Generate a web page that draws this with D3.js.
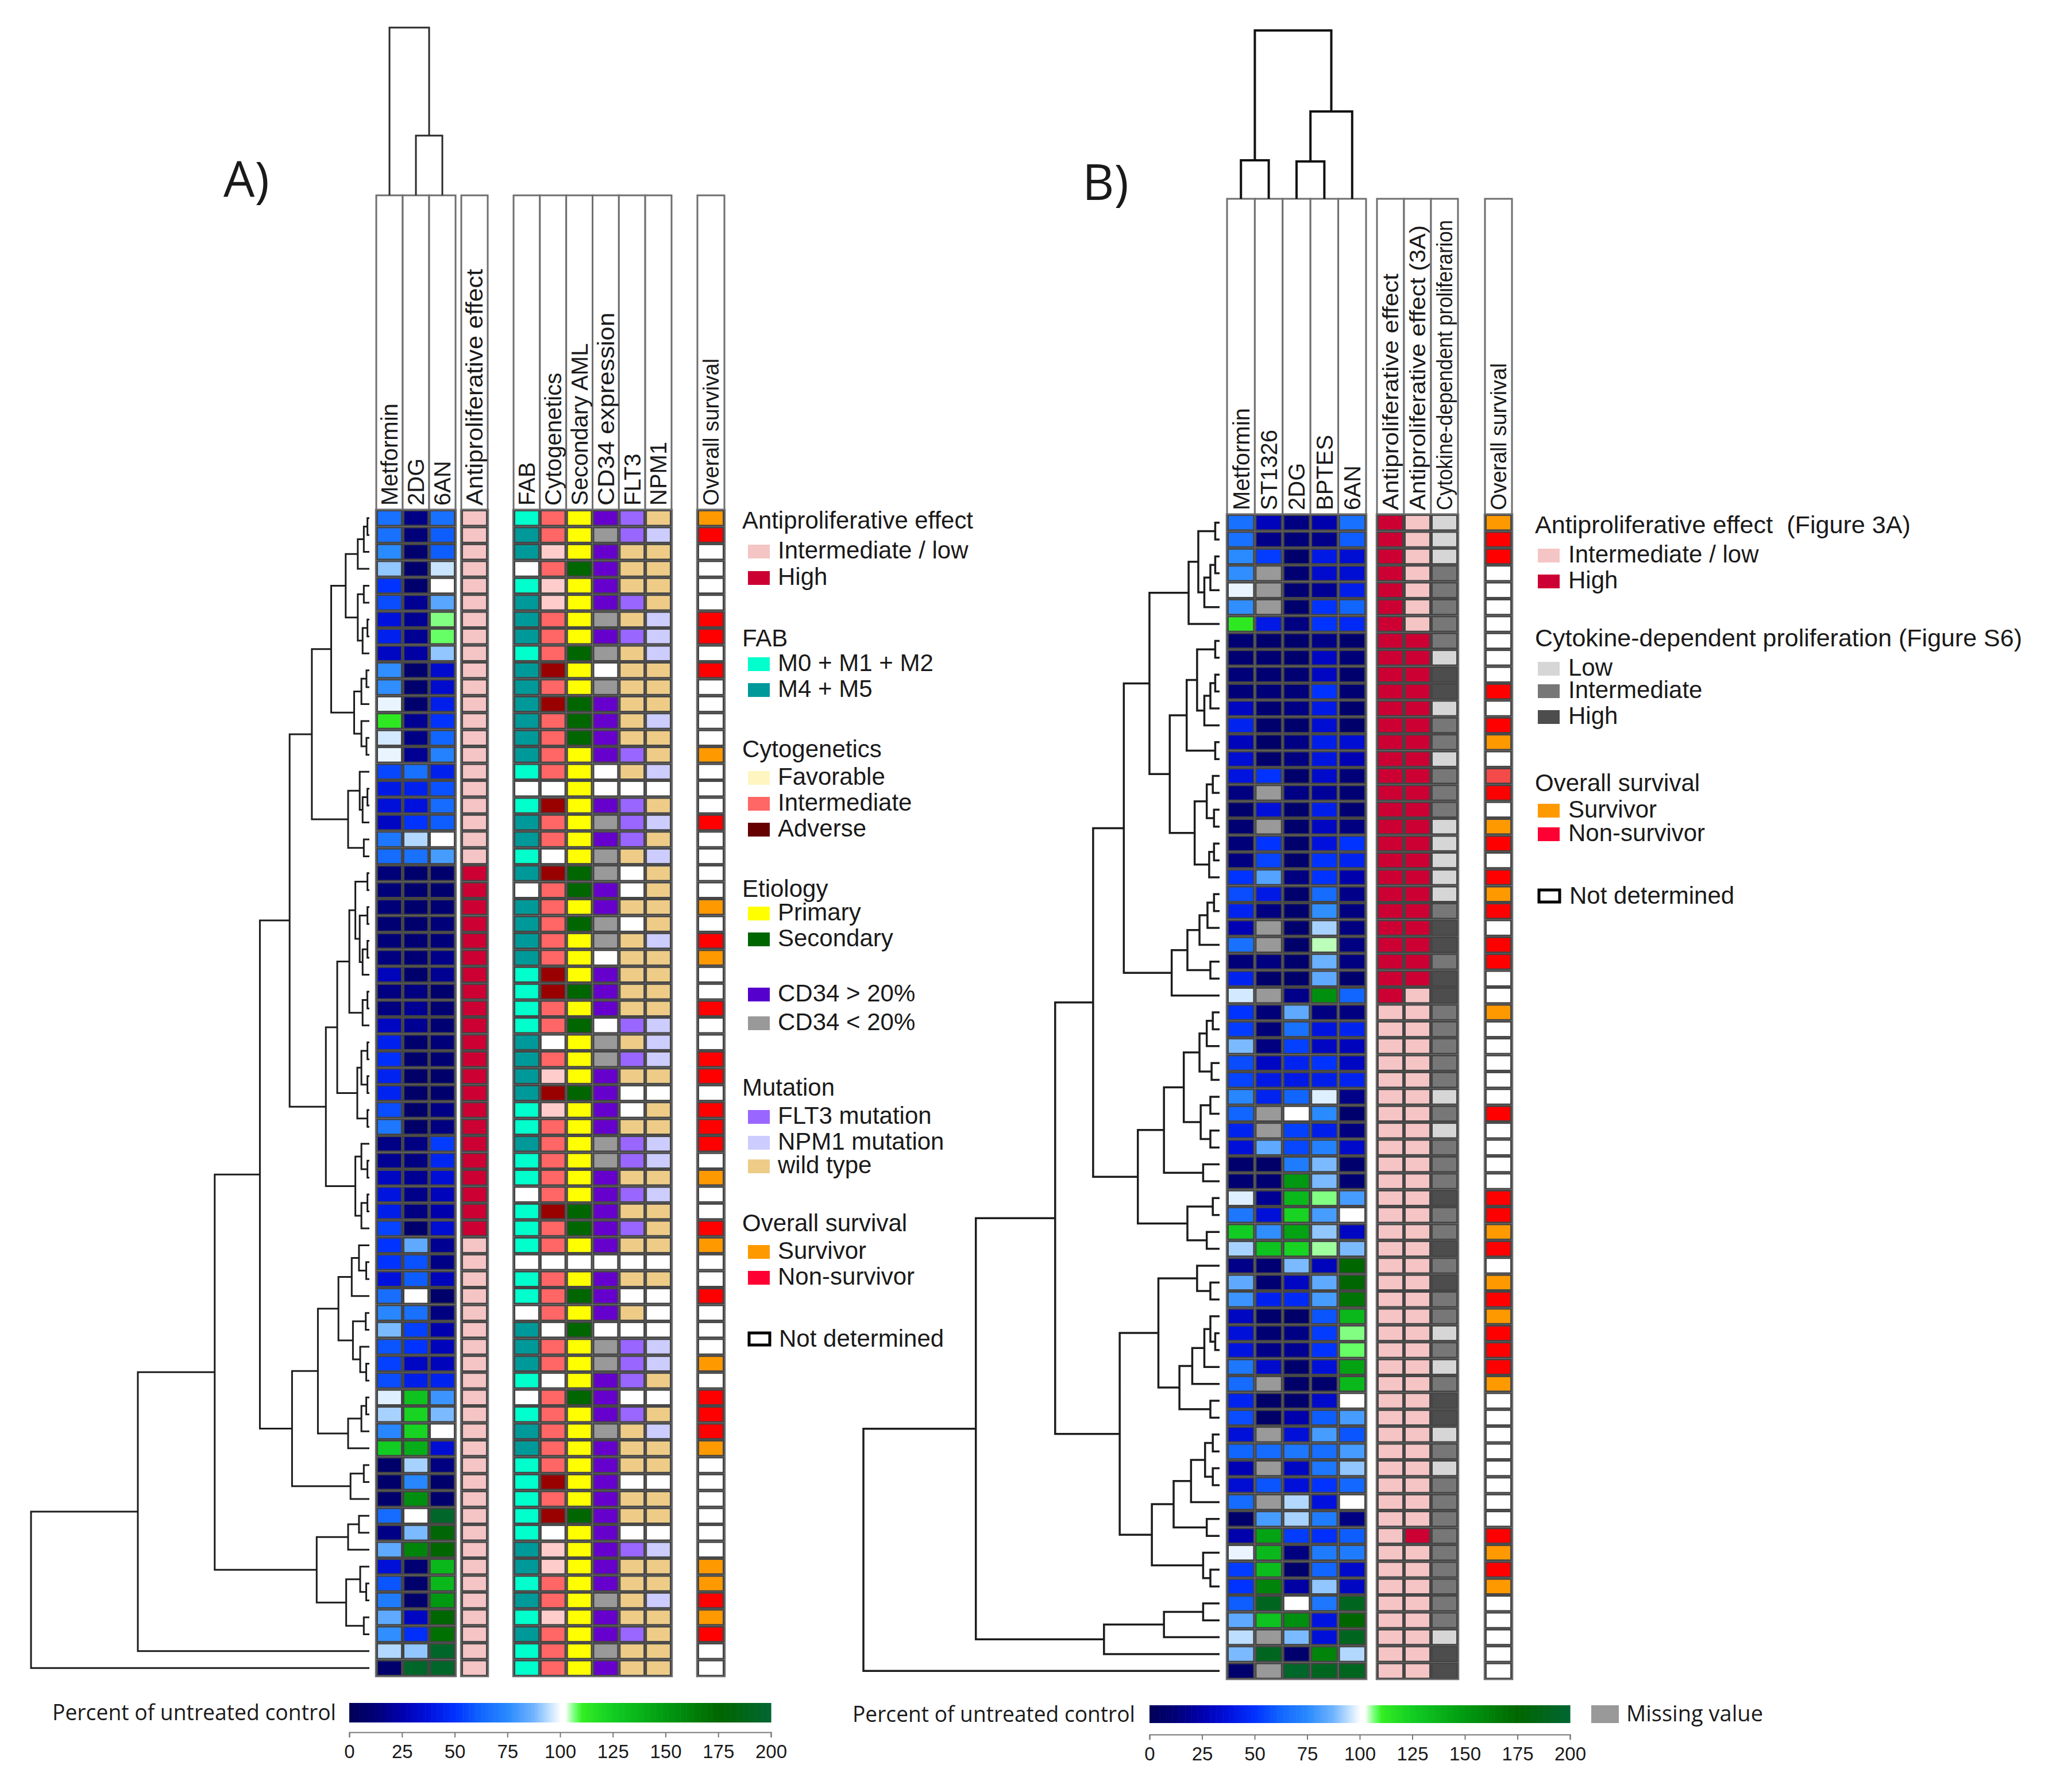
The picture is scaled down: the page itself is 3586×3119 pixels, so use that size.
<!DOCTYPE html>
<html><head><meta charset="utf-8">
<script src="https://cdnjs.cloudflare.com/ajax/libs/d3/7.8.5/d3.min.js"></script>
<style>html,body{margin:0;padding:0;background:#fff}svg{display:block}text{font-family:"Liberation Sans",Arial,sans-serif;fill:#1a1a1a}</style>
</head><body><svg id="c" width="3586" height="3119"></svg>
<script>
// ---------- Panel A data ----------
const aDrugs=["Metformin","2DG","6AN"];
const aHeat=[[66,15,66],[66,12,60],[75,8,60],[90,8,95],[50,8,100],[56,18,83],[37,18,106],[43,18,107],[30,22,90],[76,8,33],
[76,8,33],[98,8,42],[112,18,50],[96,15,62],[98,18,72],[55,66,43],[40,43,57],[36,37,64],[30,50,60],[68,93,100],
[64,66,80],[12,8,8],[12,8,8],[12,8,10],[10,8,12],[12,10,12],[14,10,16],[28,8,18],[14,14,8],[14,18,10],
[30,18,10],[43,8,12],[48,8,10],[44,6,7],[44,6,8],[56,6,15],[68,6,14],[15,14,52],[18,14,45],[30,18,35],
[38,16,28],[42,14,24],[54,8,34],[50,84,18],[50,57,15],[37,60,28],[65,100,7],[74,66,14],[88,53,24],[58,50,28],
[53,30,28],[56,42,44],[97,130,78],[92,122,88],[74,122,100],[125,140,34],[7,92,14],[7,74,7],[8,155,8],[64,100,195],
[15,88,178],[84,160,175],[36,10,135],[58,8,135],[70,8,150],[84,30,176],[76,48,170],[93,90,195],[8,195,195]];
const aEffectLabel=["Antiproliferative effect"];
const aEffect=[..."LLLLLLLLLLLLLLLLLLLLLHHHHHHHHHHHHHHHHHHHHHHLLLLLLLLLLLLLLLLLLLLLLLLLL"];
const aClinicalLabels=["FAB","Cytogenetics","Secondary AML","CD34 expression","FLT3","NPM1"];
const aClinical=["cIypmw","dIygmM","dFypww","nIspww","cFypww","dFypmw","dIygwM","dIypmM","cIsgwM","dAynww","dIygww","dAspww","dIspwM","dIspww","dIypmw","cIynwM","nnynnn","cAypmw","dIygmM","dIypmw","cnygwM","dAsgnw","nIspnw","dIypww","dIsgnw","dIygwM","dIynww","cAypww","cAspww","cIypww","cIsnmM","dnygwM","dIygmM","dFypww","dAspnn","cFypnw","cIypww","dIygmM","cIygmM","cIypww","nIypmM","cAspww","cIspmw","cIypww","nnnnnn","cIypww","cIspnn","nIypwn","dnsnnn","dIygmM","dIygmM","cnypmw","nIspnn","cIypmw","dIygwM","dIypww","cIypww","cAypnn","cIypww","cAspww","cnypnn","dFypmM","dFypww","cIypww","dIygwM","cFypww","dIypmw","cIygww","cIypww"];
const aOutcome=["o","r","n","n","n","n","r","r","n","r","n","n","n","n","o","n","n","n","r","n","n","n","n","o","n","r","o","n","n","r","n","n","r","r","n","r","r","r","n","o","n","n","r","o","n","n","r","n","n","n","o","n","r","r","r","o","n","n","n","n","n","n","o","o","r","o","r","n","n"];
const aColTree=[0.9125,["Metformin"],[0.325,["2DG"],["6AN"]]];
const aRowTree=[1400,[958,[640,[453,[330,[238,[158,[98,[48,[23,[8,0,0],0],0],[48,[23,0,0],[28,[8,0,0],0]]],[63,[33,[12,0,0],0],[33,0,[12,0,0]]]],[88,[40,0,[28,[8,0,0],0]],[23,0,0]]],
[180,[133,[83,[58,[8,0,0],[40,[8,0,0],[28,[8,0,0],0]]],[28,[8,0,0],0]],[50,[33,[8,0,0],[8,0,0]],[8,0,0]]],[58,[33,0,[8,0,0]],[33,[8,0,0],0]]]],
[320,[213,[128,[73,[43,0,[13,0,0]],0],[68,[15,0,0],[38,0,[13,0,0]]]],[88,[33,[13,0,0],0],0]],[78,[23,0,0],0]]],
[218,[88,[43,0,0],0],[96,[38,0,[13,0,0]],[23,0,0]]]],0],0];
// ---------- Panel B data ----------
const bDrugs=["Metformin","ST1326","2DG","BPTES","6AN"];
const M=null;
const bHeat=[[66,28,14,24,66],[66,16,12,16,60],[75,52,8,40,34],[76,M,10,33,34],[98,M,10,18,42],[76,M,8,50,62],[112,40,14,50,46],[10,8,8,15,8],[10,10,8,30,12],[12,10,10,30,8],
[12,12,12,50,10],[30,10,15,40,8],[44,8,8,34,7],[28,6,15,42,34],[34,8,14,38,26],[38,50,8,32,12],[14,M,15,20,10],[8,36,8,42,10],[10,M,8,30,14],[12,50,8,37,50],
[14,54,8,50,44],[50,82,14,50,24],[56,40,8,64,16],[44,14,8,76,14],[26,M,8,92,14],[66,M,7,104,14],[12,14,8,86,14],[44,7,7,84,8],[96,M,16,155,62],[50,12,84,14,14],
[52,12,66,38,44],[88,14,53,30,28],[56,30,44,50,30],[54,40,40,42,44],[74,44,62,97,16],[62,M,100,75,8],[44,M,53,42,14],[36,84,55,72,32],[8,6,70,88,8],[10,10,150,88,10],
[97,18,135,106,80],[68,36,122,80,100],[125,76,145,90,30],[92,130,122,105,88],[16,10,88,28,175],[84,10,30,84,176],[78,43,46,80,168],[30,8,6,58,135],[36,10,15,52,106],[38,16,18,50,107],
[68,33,8,36,145],[64,M,6,8,135],[44,6,8,32,100],[56,6,24,60,80],[36,M,36,80,58],[62,64,68,65,80],[26,M,30,68,90],[34,58,36,50,63],[64,M,93,37,100],[7,80,92,70,15],
[24,145,52,48,60],[98,135,14,70,70],[52,132,8,62,32],[50,160,22,90,30],[60,190,100,68,190],[84,130,155,38,175],[94,M,88,36,190],[88,190,8,160,93],[8,M,195,190,190]];
const bAnnotLabels=["Antiproliferative effect","Antiproliferative effect (3A)","Cytokine-dependent proliferarion"];
const bEffect=[..."HHHHHHHHHHHHHHHHHHHHHHHHHHHHHLLLLLLLLLLLLLLLLLLLLLLLLLLLLLLLLLLLLLLLL"];
const bEffect3A=[..."LLLLLLLHHHHHHHHHHHHHHHHHHHHHLLLLLLLLLLLLLLLLLLLLLLLLLLLLLLLLHLLLLLLLL"];
const bCytokine=["l","l","l","i","i","i","i","i","l","h","h","l","i","i","l","i","i","i","l","l","l","l","l","i","h","h","i","h","h","i","i","i","i","i","l","i","l","i","i","i","h","i","i","h","i","h","i","i","l","i","l","i","h","h","l","i","l","i","i","i","i","i","i","i","i","i","l","h","h"];
const bOutcome=["o","r","r","n","n","n","n","n","n","n","r","n","r","o","n","R","r","n","o","r","n","r","o","r","n","r","r","n","n","o","n","n","n","n","n","r","n","n","n","n","r","r","o","r","n","o","r","o","r","r","r","o","n","n","n","n","n","n","n","n","r","o","r","o","n","n","n","n","n"];
const bRowTree=[1473,[1008,[680,[523,[396,[290,[128,[88,[18,0,0],[63,[38,[18,0,0],0],0]],0],[206,[136,[93,[18,0,0],[63,[38,[18,0,0],0],0]],[18,0,0]],[103,[53,[28,0,0],[23,0,0]],[43,[23,0,0],0]]]],[198,[133,[83,[50,[23,0,0],0],0],[38,0,0]],0]],
[338,[230,[148,[83,[53,[28,0,0],0],[33,0,0]],[78,[38,0,0],[38,0,0]]],[68,0,0]],[133,[28,0,0],[53,0,0]]]],
[413,[253,[93,0,[38,0,0]],[166,[113,[63,[38,0,[18,0,0]],0],0],[38,0,0]]],[280,[190,[118,[60,[28,0,0],[28,0,0]],0],[53,0,0]],[68,0,[38,0,0]]]]],[478,[230,[68,0,0],0],0]],0];
const bColMerges=[{a:0,b:1,h:0.212},{a:2,b:3,h:0.206},{a:"p2",b:4,h:0.481},{a:"p1",b:"p3",h:0.927}];
const survivalLabel=["Overall survival"];
const tickLabels=[0,25,50,75,100,125,150,175,200];
const colorStops=[0,12,25,37,50,62,75,87,95,100,102,104,107,110,125,150,175,200];
const colorValues=["#000058","#000078","#0000b0","#0011dd","#0033ff","#1166ff","#2a8aff","#70b4ff","#c8e4ff","#ffffff","#ffffff","#bbffbb","#66ff66","#33ee22","#11cc22","#009911","#006600","#006633"];
const legendA=[
 {title:"Antiproliferative effect",items:[["Intermediate / low","#f5c4c4"],["High","#cc0033"]],ys:[920,972,1018]},
 {title:"FAB",items:[["M0 + M1 + M2","#00ffcc"],["M4 + M5","#009999"]],ys:[1125,1168,1213]},
 {title:"Cytogenetics",items:[["Favorable","#fff5c0"],["Intermediate","#ff6666"],["Adverse","#660000"]],ys:[1318,1366,1411,1456]},
 {title:"Etiology",items:[["Primary","#ffff00"],["Secondary","#006600"]],ys:[1561,1602,1647]},
 {title:"",items:[["CD34 > 20%","#5500cc"],["CD34 < 20%","#999999"]],ys:[0,1743,1793]},
 {title:"Mutation",items:[["FLT3 mutation","#9966ff"],["NPM1 mutation","#ccccff"],["wild type","#eecc88"]],ys:[1907,1956,2001,2042]},
 {title:"Overall survival",items:[["Survivor","#ff9900"],["Non-survivor","#ff0033"]],ys:[2143,2191,2236]},
 {title:"",items:[["Not determined",null]],ys:[0,2344]}];
const legendB=[
 {title:"Antiproliferative effect  (Figure 3A)",items:[["Intermediate / low","#f5c4c4"],["High","#cc0033"]],ys:[928,979,1024]},
 {title:"Cytokine-dependent proliferation (Figure S6)",items:[["Low","#d6d6d6"],["Intermediate","#777777"],["High","#4d4d4d"]],ys:[1125,1176,1215,1260]},
 {title:"Overall survival",items:[["Survivor","#ff9900"],["Non-survivor","#ff0033"]],ys:[1377,1423,1464]},
 {title:"",items:[["Not determined",null]],ys:[0,1573]}];

// ---------- style (drawn lengths of stretched reference labels, pixels) ----------
const labelFit={"Antiproliferative effect":412,"CD34 expression":336,"Antiproliferative effect (3A)":496,"Cytokine-dependent proliferarion":505,"Overall survival":256};
const titleFit={"Antiproliferative effect  (Figure 3A)":654,"Cytokine-dependent proliferation (Figure S6)":848,"Antiproliferative effect":402};

const svg=d3.select("#c");
const color=d3.scaleLinear().domain(colorStops).range(colorValues).clamp(true);
const catFill={n:"#ffffff",c:"#00ffcc",d:"#009999",F:"#ffcccc",I:"#ff6666",A:"#990000",y:"#ffff00",s:"#006600",p:"#6600cc",g:"#999999",m:"#9966ff",w:"#eecc88",M:"#ccccff",L:"#f5c4c4",H:"#cc0033",l:"#d6d6d6",i:"#777777",h:"#4d4d4d",o:"#ff9900",r:"#ff0000",R:"#f44a4a"};
const EDGE="#454545",BOX="#6f6f6f";

function block(g,x0,x1,top,y,labels,cols,fillFn,labelSize){
  const x=d3.scaleBand().domain(d3.range(labels.length)).range([x0,x1]);
  const yb=y.range();
  g.selectAll(null).data(labels).join("rect").attr("x",(d,i)=>x(i)).attr("y",top).attr("width",x.bandwidth()).attr("height",yb[0]-top)
    .attr("fill","#fff").attr("stroke",BOX).attr("stroke-width",3);
  g.selectAll(null).data(labels).join("text")
    .attr("transform",(d,i)=>`translate(${x(i)+x.bandwidth()/2+labelSize*0.36},${yb[0]-7}) rotate(-90)`)
    .attr("font-size",labelSize)
    .each(function(d){ if(labelFit[d]) d3.select(this).attr("textLength",labelFit[d]).attr("lengthAdjust","spacingAndGlyphs"); })
    .text(d=>d);
  labels.forEach((l,j)=>{
    g.selectAll(null).data(cols(j)).join("rect")
      .attr("x",x(j)+1.5).attr("y",(d,i)=>y(i)+1.5).attr("width",x.bandwidth()-3).attr("height",y.bandwidth()-3)
      .attr("fill",fillFn).attr("stroke",EDGE).attr("stroke-width",3);
  });
  g.append("rect").attr("x",x0-1).attr("y",yb[0]).attr("width",x1-x0+2).attr("height",yb[1]-yb[0]).attr("fill","none").attr("stroke",BOX).attr("stroke-width",2.5);
  return x;
}
const heatFill=d=>d===null?"#999999":color(d);
const catF=d=>catFill[d];

function rowTree(g,tree,y,xs,sw){
  let leaf=0;
  const paths=[];
  (function walk(n){
    if(n===0){return {y:y(leaf++)+y.bandwidth()/2,h:0};}
    const a=walk(n[1]),b=walk(n[2]);
    paths.push(`M${xs(a.h)},${a.y}H${xs(n[0])}V${b.y}H${xs(b.h)}`);
    return {y:(a.y+b.y)/2,h:n[0]};
  })(tree);
  g.append("path").attr("d",paths.join("")).attr("fill","none").attr("stroke","#1c1c1c").attr("stroke-width",sw);
}

function legend(g,groups,titleX,swX,swW,textX,size){
  groups.forEach(gr=>{
    if(gr.title){
      const t=g.append("text").attr("x",titleX).attr("y",gr.ys[0]).attr("font-size",size).style("white-space","pre").text(gr.title);
      if(titleFit[gr.title]) t.attr("textLength",titleFit[gr.title]).attr("lengthAdjust","spacingAndGlyphs");
    }
    gr.items.forEach((it,i)=>{
      const yy=gr.ys[i+1];
      g.append("text").attr("x",textX+(it[1]?0:2)).attr("y",yy).attr("font-size",size).text(it[0]);
      if(it[1]) g.append("rect").attr("x",swX).attr("y",yy-24).attr("width",swW).attr("height",24).attr("fill",it[1]);
      else g.append("rect").attr("x",swX+2).attr("y",yy-24).attr("width",swW-2).attr("height",21).attr("fill","none").attr("stroke","#000").attr("stroke-width",5);
    });
  });
}

function colorbar(g,x0,x1,top,bottom,axisY,title,titleX,titleLen){
  const x=d3.scaleLinear().domain([0,200]).range([x0,x1]);
  g.selectAll(null).data(d3.range(0,200,1)).join("rect").attr("x",d=>x(d)).attr("y",top).attr("width",x(1)-x(0)+0.6).attr("height",bottom-top).attr("fill",d=>color(d));
  const ax=g.append("g").attr("transform",`translate(0,${axisY})`).call(d3.axisBottom(x).tickValues(tickLabels).tickSize(9).tickPadding(13).tickFormat(d3.format("d")));
  ax.selectAll("text").attr("font-size",33).style("font-family",'"Liberation Sans"').attr("fill","#1a1a1a");
  ax.selectAll("line,path").attr("stroke","#777").attr("stroke-width",2);
  g.append("text").attr("x",titleX).attr("y",(top+bottom)/2+13).attr("font-size",38).style("font-family",'"Open Sans"').attr("textLength",titleLen).attr("lengthAdjust","spacingAndGlyphs").text(title);
}

// ---------- Panel A ----------
const gA=svg.append("g");
const yA=d3.scaleBand().domain(d3.range(aHeat.length)).range([887,2918]);
const xTreeA=d3.scaleLinear().domain([0,1400]).range([643,54]);
rowTree(gA,aRowTree,yA,xTreeA,3);
const xHeatA=block(gA,655,793,340,yA,aDrugs,j=>aHeat.map(r=>r[j]),heatFill,40);
block(gA,803,849,340,yA,aEffectLabel,()=>aEffect,catF,40);
block(gA,894,1169,340,yA,aClinicalLabels,j=>aClinical.map(r=>r[j]),catF,40);
block(gA,1214,1261,340,yA,survivalLabel,()=>aOutcome,catF,38);
(function(){
  const cx=i=>xHeatA(i)+xHeatA.bandwidth()/2;
  const yy=d3.scaleLinear().domain([0,1]).range([340,20]);
  const mid=(cx(1)+cx(2))/2, h1=aColTree[2][0], h0=aColTree[0];
  gA.append("path").attr("fill","none").attr("stroke","#2a2a2a").attr("stroke-width",3)
    .attr("d",`M${cx(1)},${yy(0)}V${yy(h1)}H${cx(2)}V${yy(0)}M${cx(0)},${yy(0)}V${yy(h0)}H${mid}V${yy(h1)}`);
})();
gA.append("text").attr("x",389).attr("y",343).attr("font-size",86).style("font-family",'"Open Sans"').text("A)");
legend(gA,legendA,1292,1302,38,1354,42);
colorbar(gA,608,1342,2964,2998,3015,"Percent of untreated control",91,494);

// ---------- Panel B ----------
const gB=svg.append("g");
const yB=d3.scaleBand().domain(d3.range(bHeat.length)).range([895,2923]);
const xTreeB=d3.scaleLinear().domain([0,1473]).range([2123,1503]);
rowTree(gB,bRowTree,yB,xTreeB,3.5);
const xHeatB=block(gB,2136,2378,346,yB,bDrugs,j=>bHeat.map(r=>r[j]),heatFill,40);
block(gB,2397,2538,346,yB,bAnnotLabels,j=>[bEffect,bEffect3A,bCytokine][j],catF,38);
block(gB,2585,2632,346,yB,survivalLabel,()=>bOutcome,catF,38);
(function(){
  const cx=i=>xHeatB(i)+xHeatB.bandwidth()/2;
  const yy=d3.scaleLinear().domain([0,1]).range([346,30]);
  const pos={};
  const pts=i=>typeof i==="number"?{x:cx(i),h:0}:pos[i];
  const d=bColMerges.map((m,i)=>{
    const a=pts(m.a),b=pts(m.b);
    pos["p"+(i+1)]={x:(a.x+b.x)/2,h:m.h};
    return `M${a.x},${yy(a.h)}V${yy(m.h)}H${b.x}V${yy(b.h)}`;
  }).join("");
  gB.append("path").attr("d",d).attr("fill","none").attr("stroke","#111").attr("stroke-width",4);
})();
gB.append("text").attr("x",1884).attr("y",348).attr("font-size",86).style("font-family",'"Open Sans"').text("B)");
legend(gB,legendB,2672,2677,38,2730,42);
colorbar(gB,2001,2733,2968,2999,3019,"Percent of untreated control",1484,492);
gB.append("rect").attr("x",2770).attr("y",2968).attr("width",48).attr("height",31).attr("fill","#999999");
gB.append("text").attr("x",2831).attr("y",2996).attr("font-size",38).style("font-family",'"Open Sans"').attr("textLength",238).attr("lengthAdjust","spacingAndGlyphs").text("Missing value");
</script></body></html>
